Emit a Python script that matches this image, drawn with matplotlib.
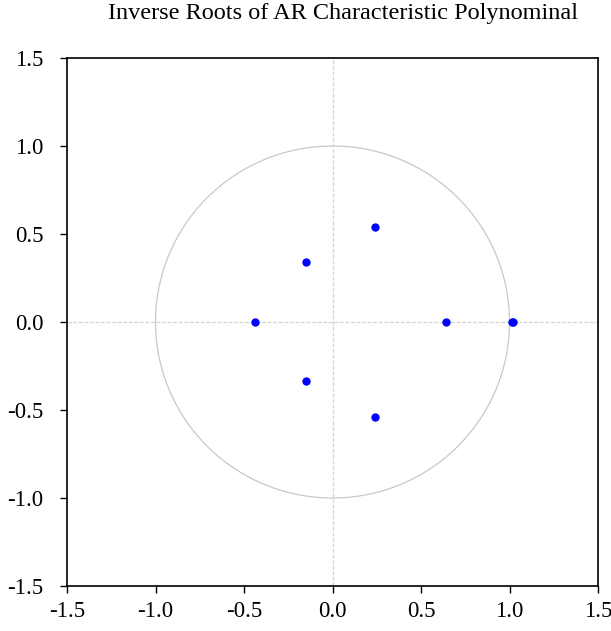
import numpy as np
import matplotlib
matplotlib.use("Agg")
import matplotlib.pyplot as plt

plt.rcParams['font.family'] = ['Liberation Serif', 'DejaVu Serif']

# inverse roots (real, imaginary)
root_re = [-0.44, -0.15, -0.15, 0.24, 0.24, 0.64, 1.02, 1.015]
root_im = [0.0, 0.34, -0.335, 0.54, -0.54, 0.0, 0.0, 0.0]

ticks = [-1.5, -1.0, -0.5, 0.0, 0.5, 1.0, 1.5]
tick_labels = ["-1.5", "-1.0", "-0.5", "0.0", "0.5", "1.0", "1.5"]

fig = plt.figure(figsize=(6.11, 6.31), dpi=100)
ax = fig.add_axes([67/611, 45/631, 531/611, 528/631])

# unit circle
t = np.linspace(0, 2*np.pi, 400)
ax.plot(np.cos(t), np.sin(t), color='#c8c8c8', lw=0.9)
ax.axhline(0, color='#d8d8d8', lw=1.0, ls=(0, (3, 1)))
ax.axvline(0, color='#d8d8d8', lw=1.0, ls=(0, (3, 1)))

ax.plot(root_re, root_im, 'o', color='#0000ff', markersize=5, zorder=3)

ax.set_xlim(-1.5, 1.5)
ax.set_ylim(-1.5, 1.5)
ax.set_xticks(ticks)
ax.set_xticklabels(tick_labels)
ax.set_yticks(ticks)
ax.set_yticklabels(tick_labels)
ax.tick_params(direction='out', length=5, width=1, labelsize=16.5, pad=6)
ax.tick_params(axis='y', pad=12)
ax.tick_params(top=False, right=False)
for s in ax.spines.values():
    s.set_linewidth(1.2)

ax.set_title("Inverse Roots of AR Characteristic Polynominal", fontsize=17.5, pad=28, x=0.52)

fig.savefig("out.png", dpi=100)
